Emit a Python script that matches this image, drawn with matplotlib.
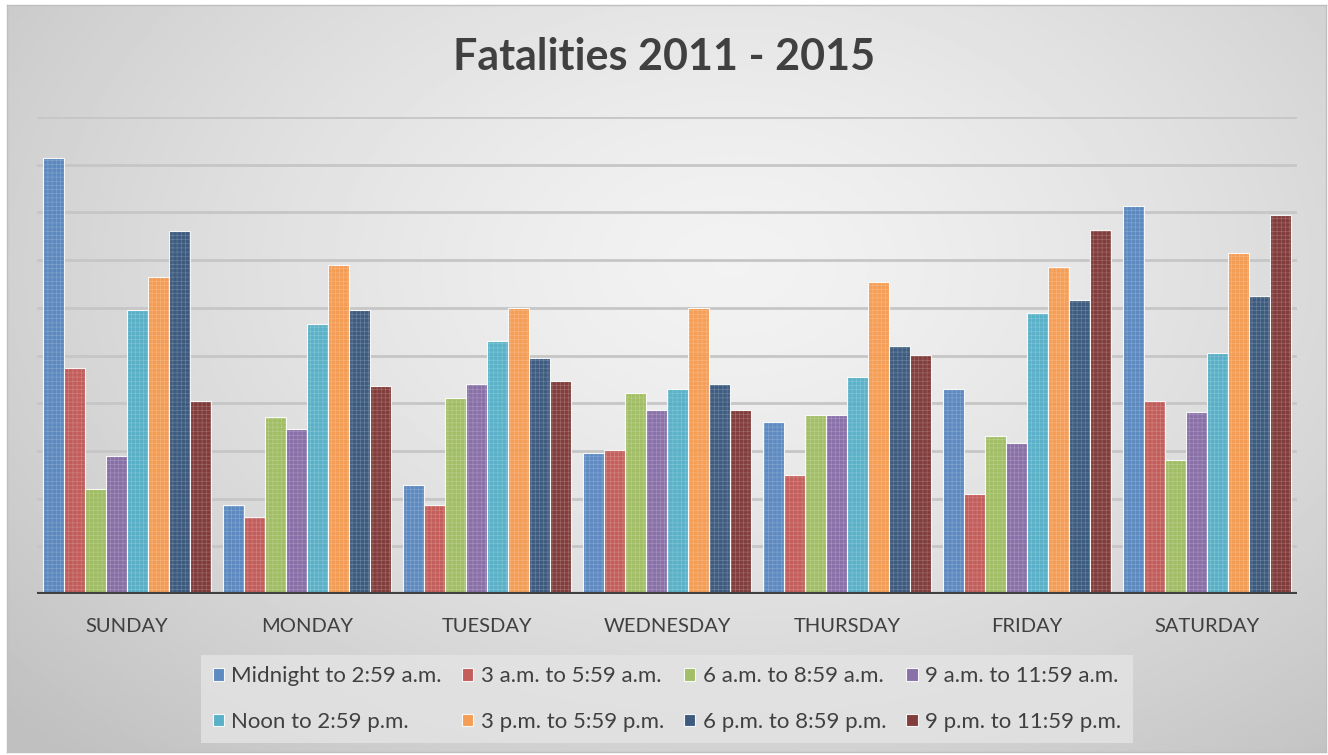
import numpy as np
import matplotlib.pyplot as plt

plt.rcParams['font.family'] = ['Lato', 'DejaVu Sans']
plt.rcParams['hatch.linewidth'] = 0.4

# Kategorie (dny) a časové intervaly
days = ["SUNDAY", "MONDAY", "TUESDAY", "WEDNESDAY", "THURSDAY", "FRIDAY", "SATURDAY"]
labels = ["Midnight to 2:59 a.m.", "3 a.m. to 5:59 a.m.", "6 a.m. to 8:59 a.m.",
          "9 a.m. to 11:59 a.m.", "Noon to 2:59 p.m.", "3 p.m. to 5:59 p.m.",
          "6 p.m. to 8:59 p.m.", "9 p.m. to 11:59 p.m."]
colors = ["#4F81BD", "#C0504D", "#9BBB59", "#8064A2",
          "#4BACC6", "#F79646", "#2C4D75", "#772C2A"]

# Hodnoty (relativní jednotky, mřížka = 1)
midnight = [9.14, 1.87, 2.29, 2.96, 3.61, 4.30, 8.13]
am3 = [4.74, 1.61, 1.87, 3.02, 2.49, 2.10, 4.05]
am6 = [2.20, 3.71, 4.11, 4.21, 3.75, 3.31, 2.81]
am9 = [2.89, 3.46, 4.40, 3.86, 3.75, 3.17, 3.82]
noon = [5.95, 5.66, 5.30, 4.30, 4.55, 5.89, 5.05]
pm3 = [6.65, 6.90, 6.00, 6.00, 6.54, 6.86, 7.15]
pm6 = [7.61, 5.95, 4.95, 4.40, 5.20, 6.16, 6.25]
pm9 = [4.05, 4.36, 4.47, 3.86, 5.01, 7.63, 7.95]
series = [midnight, am3, am6, am9, noon, pm3, pm6, pm9]

W, H = 1328, 755
fig = plt.figure(figsize=(W / 100, H / 100), dpi=100)

# Pozadí s radiálním přechodem
bg = fig.add_axes([7 / W, 1 - 752 / H, (1326 - 7) / W, (752 - 5) / H], zorder=-10)
yy, xx = np.mgrid[0:1:300j, 0:1:500j]
r = np.sqrt(((xx - 0.55) / 0.75) ** 2 + ((yy - 0.65) / 0.9) ** 2)
shade = 0.95 - 0.2 * np.clip(r, 0, 1) ** 1.4
bg.imshow(shade, cmap="gray", vmin=0, vmax=1, aspect="auto",
          extent=[0, 1, 0, 1], origin="lower")
bg.set_xticks([])
bg.set_yticks([])
for s in bg.spines.values():
    s.set_color("#BFBFBF")
    s.set_linewidth(1)

ax = fig.add_axes([37 / W, 1 - 594 / H, 1260 / W, (594 - 117) / H])
ax.patch.set_alpha(0)

x = np.arange(len(days))
group = 0.93
w = group / len(series)
handles = []
for i, (vals, lab, c) in enumerate(zip(series, labels, colors)):
    pos = x - group / 2 + w * (i + 0.5)
    b = ax.bar(pos, vals, w, color=c, alpha=0.9, edgecolor=(1, 1, 1, 0.7),
               linewidth=0.8, label=lab, zorder=3)
    ax.bar(pos, vals, w, color="none", edgecolor=(1, 1, 1, 0.25),
           hatch="++++", linewidth=0, zorder=4)
    handles.append(b)

ax.set_xlim(-0.5, len(days) - 0.5)
ax.set_ylim(0, 10)
ax.set_yticks(np.arange(0, 11))
ax.set_yticklabels([])
ax.tick_params(axis="y", length=0)
ax.grid(axis="y", color="#C6C6C6", linewidth=2, zorder=0)
ax.axhline(0, color="#404040", linewidth=3, zorder=6)
for s in ax.spines.values():
    s.set_visible(False)
ax.set_xticks(x)
ax.set_xticklabels(days, fontsize=14.5, color="#404040")
ax.tick_params(axis="x", length=0, pad=17)

fig.text(0.5, 1 - 57 / H, "Fatalities 2011 - 2015", ha="center", va="center",
         fontsize=31, fontweight="bold", color="#404040")

order = [0, 4, 1, 5, 2, 6, 3, 7]
leg = fig.legend([handles[k] for k in order], [labels[k] for k in order],
                 ncol=4, loc="center", bbox_to_anchor=(667 / W, 1 - 699 / H),
                 frameon=True, facecolor="#E4E4E4", edgecolor="none",
                 fancybox=False, fontsize=16, handlelength=0.5, handleheight=0.5,
                 handletextpad=0.35, columnspacing=0.9, labelcolor="#404040",
                 borderpad=0.5, labelspacing=1.15, borderaxespad=0)
leg.get_frame().set_alpha(0.8)

plt.savefig("out.png", dpi=100)
